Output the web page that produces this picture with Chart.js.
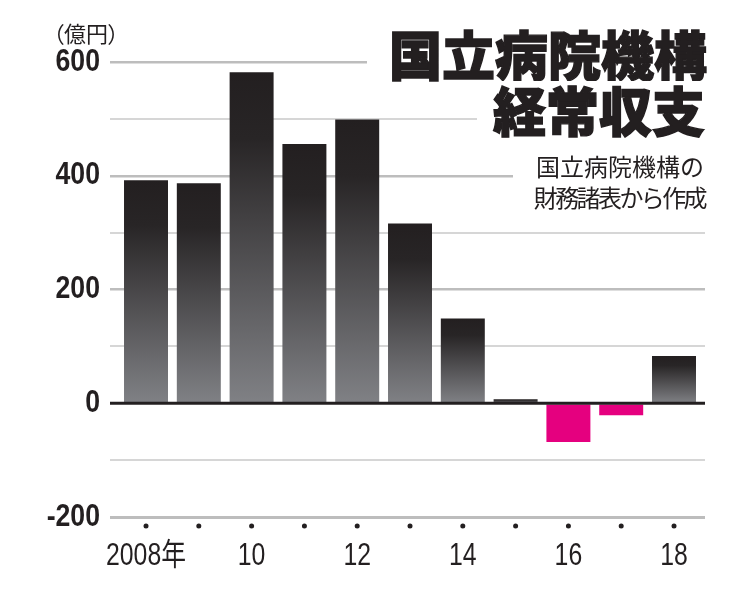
<!DOCTYPE html>
<html><head><meta charset="utf-8">
<script src="https://cdn.jsdelivr.net/npm/chart.js@4/dist/chart.umd.min.js"></script>
<style>
html,body{margin:0;padding:0;background:#fff;}
#wrap{position:relative;width:740px;height:590px;}
canvas{position:absolute;left:0;top:0;}
.t{position:absolute;color:#231f20;white-space:nowrap;font-family:'Noto Sans CJK JP',sans-serif;}
.w{background:#fff;}
.big{font-size:53px;line-height:56px;font-weight:900;-webkit-text-stroke:1.4px #231f20;}
</style></head>
<body><div id="wrap"><canvas id="c" width="740" height="590"></canvas>
<div class="t" style="left:53px;top:19px;font-size:22px;line-height:26px;font-feature-settings:'palt';">（億円）</div>
<div class="t w big" style="right:28px;top:25px;padding-left:22px;padding-right:5px;">国立病院機構</div>
<div class="t w big" style="right:30px;top:81px;padding-left:16px;padding-right:5px;">経常収支</div>
<div class="t w" style="right:30px;top:151px;font-size:24px;line-height:30px;padding-left:23px;padding-right:6px;">国立病院機構の</div>
<div class="t" style="right:35px;top:182px;font-size:24px;line-height:30px;letter-spacing:-2.6px;">財務諸表から作成</div>
</div>
<script>
const years = [2008, 2009, 2010, 2011, 2012, 2013, 2014, 2015, 2016, 2017, 2018];
const xTickLabels = ['2008年', '', '10', '', '12', '', '14', '', '16', '', '18'];
const balance = [392, 387, 582, 456, 499, 316, 149, 7, -68, -21, 83];
const yTickLabels = [-200, 0, 200, 400, 600];

const FONT = "'Liberation Sans','Noto Sans CJK JP',sans-serif";

// condense the axis label glyphs horizontally around their own anchor
function condense(scale, k) {
  if (scale._condensed) return;
  scale._condensed = true;
  const orig = scale.drawLabels.bind(scale);
  scale.drawLabels = function (area) {
    const ctx = this.ctx;
    const ft = ctx.fillText;
    ctx.fillText = function (t, x, y, m) {
      this.save();
      this.translate(x, y);
      this.scale(k, 1);
      ft.call(this, t, 0, 0);
      this.restore();
    };
    try { orig(area); } finally { ctx.fillText = ft; }
  };
}

const overlay = {
  id: 'overlay',
  afterLayout(chart) {
    condense(chart.scales.x, 0.8);
    condense(chart.scales.y, 0.86);
  },
  afterDatasetsDraw(chart) {
    const {ctx, chartArea, scales} = chart;
    const y0 = scales.y.getPixelForValue(0);
    ctx.save();
    ctx.strokeStyle = '#231f20';
    ctx.lineWidth = 3.2;
    ctx.beginPath();
    ctx.moveTo(chartArea.left, y0);
    ctx.lineTo(chartArea.right, y0);
    ctx.stroke();
    ctx.fillStyle = '#231f20';
    years.forEach(v => {
      const x = scales.x.getPixelForValue(v);
      ctx.beginPath();
      ctx.arc(x, chartArea.bottom + 9, 2.5, 0, Math.PI * 2);
      ctx.fill();
    });
    ctx.restore();
  }
};

function barColor(c) {
  const chart = c.chart;
  const v = c.raw && c.raw.y;
  if (v < 0) return '#e5007f';
  if (!chart.chartArea || v === undefined) return '#231f20';
  const ys = chart.scales.y;
  const top = ys.getPixelForValue(v);
  const base = ys.getPixelForValue(0);
  if (base - top < 2) return '#2b2829';
  const g = chart.ctx.createLinearGradient(0, top, 0, base);
  g.addColorStop(0, '#231f20');
  g.addColorStop(0.2, '#282526');
  g.addColorStop(1, '#808185');
  return g;
}

new Chart(document.getElementById('c'), {
  type: 'bar',
  data: {
    datasets: [{
      data: years.map((yr, i) => ({x: yr, y: balance[i]})),
      backgroundColor: barColor,
      borderWidth: 0,
      barPercentage: 0.833,
      categoryPercentage: 1
    }]
  },
  options: {
    responsive: false,
    animation: false,
    events: [],
    layout: {padding: {top: 62, right: 35, bottom: 0, left: 0}},
    plugins: {legend: {display: false}, tooltip: {enabled: false}, title: {display: false}},
    scales: {
      x: {
        type: 'linear',
        offset: false,
        min: 2007.318,
        max: 2018.587,
        afterBuildTicks: s => { s.ticks = years.map(v => ({value: v})); },
        afterFit: s => { s.height = 73; },
        grid: {display: false},
        border: {display: false},
        ticks: {
          autoSkip: false,
          maxRotation: 0,
          padding: 13,
          color: '#231f20',
          font: {family: FONT, size: 31},
          callback: (v) => xTickLabels[years.indexOf(v)] ?? ''
        }
      },
      y: {
        min: -200,
        max: 600,
        afterBuildTicks: s => {
          const t = [];
          for (let v = -200; v <= 600; v += 100) t.push({value: v});
          s.ticks = t;
        },
        afterFit: s => { s.width = 110; },
        border: {display: false},
        grid: {
          drawTicks: false,
          color: c => c.tick.value === 0 ? 'rgba(0,0,0,0)' : (c.tick.value % 200 === 0 ? '#bdbdbd' : '#d6d6d6'),
          lineWidth: c => c.tick.value === -200 ? 3 : (c.tick.value % 200 === 0 ? 2.5 : 2)
        },
        ticks: {
          padding: 10,
          color: '#231f20',
          font: {family: FONT, size: 31, weight: 'bold'},
          callback: v => yTickLabels.includes(v) ? String(v) : ''
        }
      }
    }
  },
  plugins: [overlay]
});
</script>
</body></html>
